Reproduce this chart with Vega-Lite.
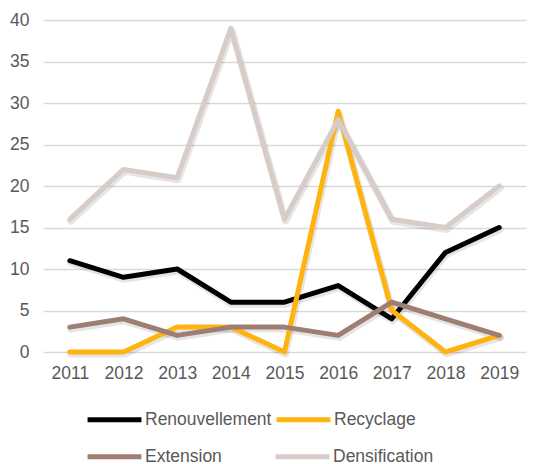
{
  "$schema": "https://vega.github.io/schema/vega-lite/v6.json",
  "width": 483,
  "height": 332,
  "autosize": {"type": "none"},
  "padding": {"left": 43, "top": 20, "right": 23, "bottom": 112},
  "background": "white",
  "config": {"view": {"stroke": null}, "font": "Liberation Sans"},
  "data": {
    "values": [
      {"year": "2011", "serie": "Renouvellement", "v": 11},
      {"year": "2012", "serie": "Renouvellement", "v": 9},
      {"year": "2013", "serie": "Renouvellement", "v": 10},
      {"year": "2014", "serie": "Renouvellement", "v": 6},
      {"year": "2015", "serie": "Renouvellement", "v": 6},
      {"year": "2016", "serie": "Renouvellement", "v": 8},
      {"year": "2017", "serie": "Renouvellement", "v": 4},
      {"year": "2018", "serie": "Renouvellement", "v": 12},
      {"year": "2019", "serie": "Renouvellement", "v": 15},
      {"year": "2011", "serie": "Recyclage", "v": 0},
      {"year": "2012", "serie": "Recyclage", "v": 0},
      {"year": "2013", "serie": "Recyclage", "v": 3},
      {"year": "2014", "serie": "Recyclage", "v": 3},
      {"year": "2015", "serie": "Recyclage", "v": 0},
      {"year": "2016", "serie": "Recyclage", "v": 29},
      {"year": "2017", "serie": "Recyclage", "v": 5},
      {"year": "2018", "serie": "Recyclage", "v": 0},
      {"year": "2019", "serie": "Recyclage", "v": 2},
      {"year": "2011", "serie": "Extension", "v": 3},
      {"year": "2012", "serie": "Extension", "v": 4},
      {"year": "2013", "serie": "Extension", "v": 2},
      {"year": "2014", "serie": "Extension", "v": 3},
      {"year": "2015", "serie": "Extension", "v": 3},
      {"year": "2016", "serie": "Extension", "v": 2},
      {"year": "2017", "serie": "Extension", "v": 6},
      {"year": "2018", "serie": "Extension", "v": 4},
      {"year": "2019", "serie": "Extension", "v": 2},
      {"year": "2011", "serie": "Densification", "v": 16},
      {"year": "2012", "serie": "Densification", "v": 22},
      {"year": "2013", "serie": "Densification", "v": 21},
      {"year": "2014", "serie": "Densification", "v": 39},
      {"year": "2015", "serie": "Densification", "v": 16},
      {"year": "2016", "serie": "Densification", "v": 28},
      {"year": "2017", "serie": "Densification", "v": 16},
      {"year": "2018", "serie": "Densification", "v": 15},
      {"year": "2019", "serie": "Densification", "v": 20}
    ]
  },
  "encoding": {
    "x": {
      "field": "year",
      "type": "ordinal",
      "title": null,
      "axis": {
        "labelAngle": 0,
        "labelFontSize": 17.5,
        "labelColor": "#595959",
        "labelPadding": 12,
        "ticks": false,
        "domain": false,
        "grid": false
      }
    },
    "y": {
      "field": "v",
      "type": "quantitative",
      "title": null,
      "scale": {"domain": [0, 40]},
      "axis": {
        "values": [0, 5, 10, 15, 20, 25, 30, 35, 40],
        "labelFontSize": 17.5,
        "labelColor": "#595959",
        "labelPadding": 14,
        "ticks": false,
        "domain": false,
        "gridColor": "#D9D9D9",
        "gridWidth": 1.5
      }
    }
  },
  "layer": [
    {
      "mark": {"type": "line", "strokeWidth": 7, "strokeCap": "round", "strokeJoin": "round", "xOffset": 1, "yOffset": 2, "opacity": 0.1, "color": "#000000"},
      "encoding": {
        "detail": {"field": "serie", "type": "nominal"}
      }
    },
    {
      "transform": [{"filter": {"field": "serie", "oneOf": ["Renouvellement", "Recyclage"]}}],
      "mark": {"type": "line", "strokeWidth": 5, "strokeCap": "round", "strokeJoin": "round"},
      "encoding": {
        "stroke": {
          "field": "serie",
          "type": "nominal",
          "sort": null,
          "scale": {
            "domain": ["Renouvellement", "Recyclage"],
            "range": ["#000000", "#FFB30F"]
          },
          "legend": {
            "title": null,
            "orient": "none",
            "direction": "horizontal",
            "legendX": 42,
            "legendY": 370,
            "columns": 2,
            "symbolType": "stroke",
            "symbolSize": 2900,
            "symbolStrokeWidth": 5,
            "labelFontSize": 17.5,
            "labelColor": "#595959",
            "labelOffset": 1,
            "columnPadding": -6
          }
        }
      }
    },
    {
      "transform": [{"filter": {"field": "serie", "oneOf": ["Extension", "Densification"]}}],
      "mark": {"type": "line", "strokeWidth": 5, "strokeCap": "round", "strokeJoin": "round"},
      "encoding": {
        "color": {
          "field": "serie",
          "type": "nominal",
          "sort": null,
          "scale": {
            "domain": ["Extension", "Densification"],
            "range": ["#9E7E73", "#D7CCC8"]
          },
          "legend": {
            "title": null,
            "orient": "none",
            "direction": "horizontal",
            "legendX": 42,
            "legendY": 407,
            "columns": 2,
            "symbolType": "stroke",
            "symbolSize": 2900,
            "symbolStrokeWidth": 5,
            "labelFontSize": 17.5,
            "labelColor": "#595959",
            "labelOffset": 1,
            "columnPadding": 43
          }
        }
      }
    }
  ]
}
